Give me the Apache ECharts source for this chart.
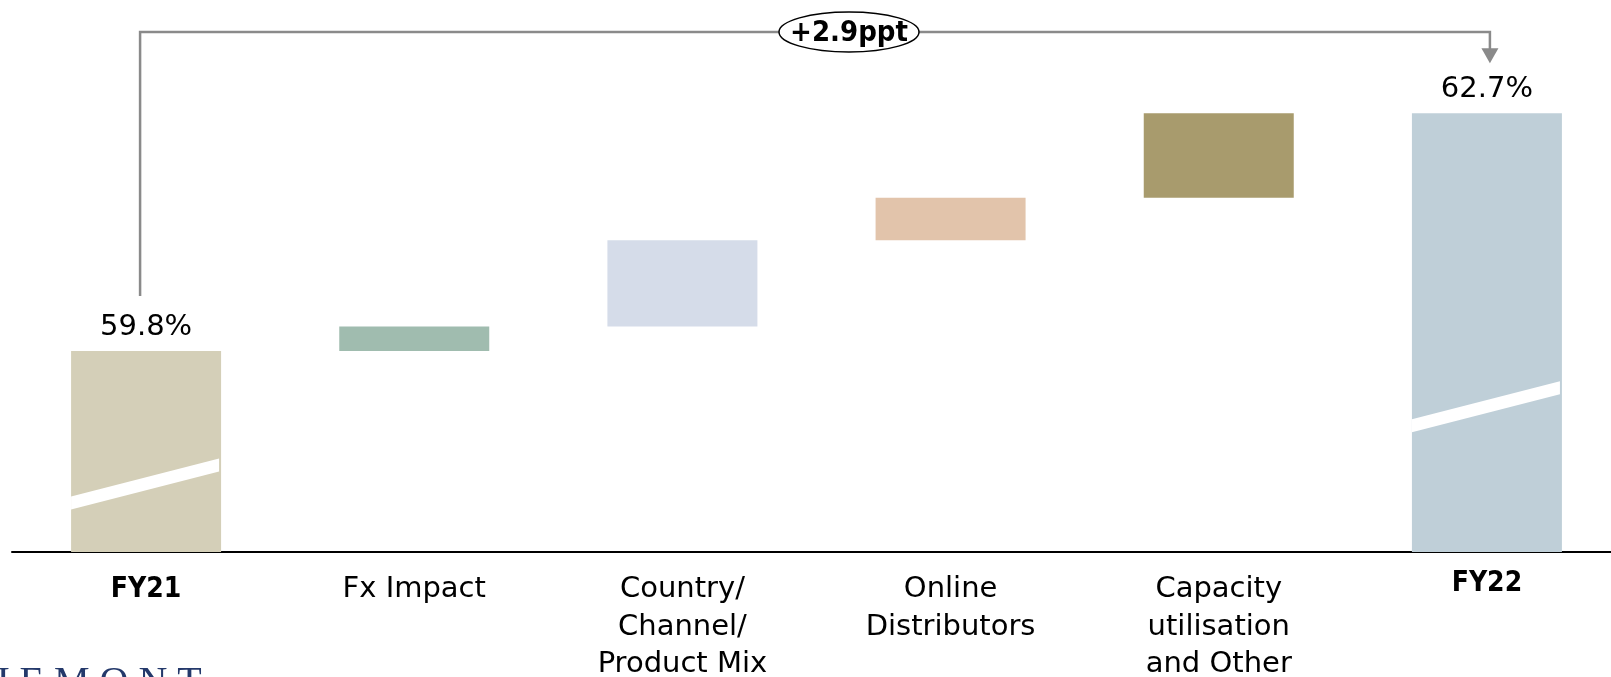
<!DOCTYPE html>
<html>
<head>
<meta charset="utf-8">
<script src="https://cdn.jsdelivr.net/npm/echarts@6/dist/echarts.min.js"></script>
<style>
  html, body { margin: 0; padding: 0; background: #fff; }
  #main { width: 1611px; height: 677px; }
</style>
</head>
<body>
<div id="main"></div>
<script>
/*########  毛利率桥图 FY21 -> FY22  ########*/
var categories = ['FY21', 'Fx Impact', 'Country/\nChannel/\nProduct Mix', 'Online\nDistributors', 'Capacity\nutilisation\nand Other', 'FY22'];
var fy21 = 59.8;
var fy22 = 62.7;
var deltas = [0.3, 1.05, 0.52, 1.03];   // Fx, Country mix, Online, Capacity
var breakAt = [[0, 58.18], [5, 59.12]]; // axis break stripes on the two totals

var colors = ['#d4cfb8', '#a0bcaf', '#d5dce9', '#e2c4ab', '#a89b6d', '#bfcfd8'];

// build stacked waterfall: transparent base + visible part
var baseData = [0];
var barData = [fy21];
var run = fy21;
for (var i = 0; i < deltas.length; i++) {
    baseData.push(run);
    barData.push(deltas[i]);
    run += deltas[i];
}
baseData.push(0);
barData.push(fy22);

var bars = barData.map(function (v, i) {
    var item = { value: v, itemStyle: { color: colors[i] } };
    if (i === 0 || i === barData.length - 1) {
        item.label = { show: true, formatter: v.toFixed(1) + '%' };
    }
    return item;
});

var dom = document.getElementById('main');
var myChart = echarts.init(dom);

var option = {
    animation: false,
    grid: { left: 12, width: 1609, top: 27, bottom: 125, outerBoundsMode: 'none', containLabel: false },
    xAxis: {
        type: 'category',
        data: categories,
        axisTick: { show: false },
        axisLine: { lineStyle: { color: '#000', width: 2 } },
        axisLabel: {
            interval: 0,
            margin: 19,
            color: '#000',
            fontFamily: 'DejaVu Sans',
            fontSize: 29,
            lineHeight: 37.5,
            formatter: function (v) {
                if (v === 'FY21') return '{b|' + v + '}';
                if (v === 'FY22') return '{b2|' + v + '}';
                return v;
            },
            rich: {
                b: {
                    fontWeight: 'bold',
                    fontFamily: '"DejaVu Sans Condensed", "DejaVu Sans"',
                    fontSize: 28,
                    lineHeight: 37.5,
                    color: '#000'
                },
                b2: {
                    fontWeight: 'bold',
                    fontFamily: '"DejaVu Sans Condensed", "DejaVu Sans"',
                    fontSize: 28,
                    lineHeight: 25,
                    color: '#000'
                }
            }
        }
    },
    yAxis: {
        type: 'value',
        show: false,
        min: 57.35,
        max: 63.75,
        splitLine: { show: false }
    },
    series: [
        {
            name: 'base',
            type: 'bar',
            stack: 'wf',
            barWidth: 150,
            silent: true,
            itemStyle: { color: 'transparent' },
            data: baseData
        },
        {
            name: 'gm',
            type: 'bar',
            stack: 'wf',
            barWidth: 150,
            label: {
                show: false,
                position: 'top',
                distance: 9,
                color: '#000',
                fontFamily: 'DejaVu Sans',
                fontSize: 29
            },
            data: bars
        },
        {
            name: 'break',
            type: 'custom',
            silent: true,
            z: 10,
            renderItem: function (params, api) {
                var p = api.coord([api.value(0), api.value(1)]);
                var half = 75, rise = 19, t = 6.5;
                return {
                    type: 'polygon',
                    shape: {
                        points: [
                            [p[0] - half, p[1] + rise - t],
                            [p[0] + half - 2, p[1] - rise - t],
                            [p[0] + half - 2, p[1] - rise + t],
                            [p[0] - half, p[1] + rise + t]
                        ]
                    },
                    style: { fill: '#fff' }
                };
            },
            data: breakAt
        }
    ]
};
myChart.setOption(option);

/*########  +2.9ppt 括号箭头  ########*/
var x1 = myChart.convertToPixel({ xAxisIndex: 0 }, 0) - 6;
var x2 = myChart.convertToPixel({ xAxisIndex: 0 }, 5) + 3;
var yLeft = myChart.convertToPixel({ yAxisIndex: 0 }, fy21) - 55;
var yTip = myChart.convertToPixel({ yAxisIndex: 0 }, fy22) - 50;
var yTop = 32;
var gray = '#8a8a8a';

myChart.setOption({
    graphic: [
        {
            type: 'polyline',
            z: 20,
            shape: { points: [[x1, yLeft], [x1, yTop], [x2, yTop], [x2, yTip - 14]] },
            style: { stroke: gray, lineWidth: 2.5, fill: null }
        },
        {
            type: 'polygon',
            z: 20,
            shape: { points: [[x2 - 8.5, yTip - 15], [x2 + 8.5, yTip - 15], [x2, yTip]] },
            style: { fill: gray }
        },
        {
            type: 'ellipse',
            z: 21,
            shape: { cx: 849, cy: yTop, rx: 70, ry: 20 },
            style: { fill: '#fff', stroke: '#000', lineWidth: 1.5 }
        },
        {
            type: 'text',
            z: 22,
            x: 849,
            y: yTop + 1,
            style: {
                text: '+' + (fy22 - fy21).toFixed(1) + 'ppt',
                font: 'bold 29px "DejaVu Sans Condensed", "DejaVu Sans"',
                fill: '#000',
                align: 'center',
                verticalAlign: 'middle'
            }
        },
        {
            type: 'text',
            z: 5,
            x: -116,
            y: 663,
            style: {
                text: 'R I C H E M O N T',
                font: '40px "Liberation Serif"',
                fill: '#24396b',
                verticalAlign: 'top'
            }
        }
    ]
});
</script>
</body>
</html>
